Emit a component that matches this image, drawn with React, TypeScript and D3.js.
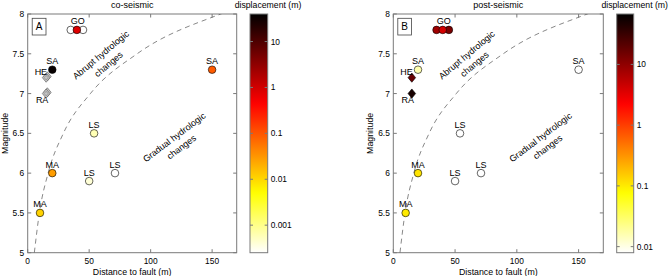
import React from 'react';
import * as d3 from 'd3';

// ---------- data ----------
const stations = ['GO', 'GO', 'GO', 'SA', 'HE', 'RA', 'SA', 'LS', 'LS', 'LS', 'MA', 'MA'];
const showLabel = [false, false, true, true, true, true, true, true, true, true, true, true];
const distance = [35, 45, 40, 20, 15, 15, 150, 54, 50, 71, 20, 10];
const magnitude = [7.8, 7.8, 7.8, 7.3, 7.2, 7.0, 7.3, 6.5, 5.9, 6.0, 6.0, 5.5];
const markerShape = ['circle', 'circle', 'circle', 'circle', 'diamond', 'diamond', 'circle', 'circle', 'circle', 'circle', 'circle', 'circle'];
// displacement (m); NaN = no data (gray)
const coDisplacement = [0, 0, 0.8, 35, NaN, NaN, 0.09, 0.0006, 0.0004, 0, 0.028, 0.011];
const postDisplacement = [8, 13, 4, 0.016, 17, 50, 0, 0, 0, 0, 0.11, 0.1];

// boundary between abrupt and gradual changes
const boundaryDistance = [5.4, 9.5, 16.6, 29, 51, 89, 157, 175];
const boundaryMagnitude = [5, 5.5, 6, 6.5, 7, 7.5, 8, 8.1];

const xTicks = [0, 50, 100, 150];
const yTicks = [5, 5.5, 6, 6.5, 7, 7.5, 8];
const cbTicksCo = [0.001, 0.01, 0.1, 1, 10];
const cbTicksPost = [0.01, 0.1, 1, 10];
const cbDomainCo = [Math.pow(10, -3.6), Math.pow(10, 1.6)];
const cbDomainPost = [Math.pow(10, -2.1), Math.pow(10, 1.83)];

// ---------- layout ----------
const W = 668;
const H = 276;
const TOP = 14;
const BOTTOM = 252.7;
const FONT = "'Liberation Sans', Arial, Helvetica, sans-serif";
const AXIS = '#7a7a7a';

const clamp01 = (v: number) => Math.max(0, Math.min(1, v));
// MATLAB "hot" colormap, reversed (t=0 white -> t=1 black)
function hotRev(t: number): string {
  const s = 1 - clamp01(t);
  const r = Math.min(1, s / 0.375);
  const g = clamp01((s - 0.375) / 0.375);
  const b = clamp01((s - 0.75) / 0.25);
  return d3.rgb(r * 255, g * 255, b * 255).formatHex();
}

const panels = [
  { key: 'A', title: 'co-seismic', left: 27.7, right: 236.7, cbX: 250, cbW: 17.7, domain: cbDomainCo, ticks: cbTicksCo, disp: coDisplacement },
  { key: 'B', title: 'post-seismic', left: 393.3, right: 603.3, cbX: 616.7, cbW: 17, domain: cbDomainPost, ticks: cbTicksPost, disp: postDisplacement },
];

function Panel({ p }: { p: typeof panels[number] }) {
  const x = d3.scaleLinear().domain([0, 170]).range([p.left, p.right]);
  const y = d3.scaleLinear().domain([5, 8]).range([BOTTOM, TOP]);
  const cb = d3.scaleLog().domain(p.domain).range([BOTTOM, TOP]);
  const tScale = d3.scaleLog().domain(p.domain).range([0, 1]).clamp(true);
  const colorOf = (v: number) => (isNaN(v) ? '#c4c4c4' : v <= 0 ? '#ffffff' : hotRev(tScale(v)));
  const tl = 3.5;
  const gradId = 'grad' + p.key;
  const clipId = 'clip' + p.key;
  const stops = d3.range(64).map((i) => i / 63);
  const line = d3
    .line<number>()
    .x((d, i) => x(boundaryDistance[i]))
    .y((d, i) => y(boundaryMagnitude[i]))
    .curve(d3.curveMonotoneX);
  const midX = (p.left + p.right) / 2;

  const annot = (dist: number, mag: number, angle: number, l1: string, l2: string) => (
    <g transform={`translate(${x(dist)},${y(mag)}) rotate(${angle})`} fontSize={9} fontFamily={FONT} textAnchor="middle">
      <text y={3}>{l1}</text>
      <text y={15}>{l2}</text>
    </g>
  );

  return (
    <g>
      <defs>
        <linearGradient id={gradId} x1="0" y1="1" x2="0" y2="0">
          {stops.map((t, i) => (
            <stop key={i} offset={t} stopColor={hotRev(t)} />
          ))}
        </linearGradient>
        <clipPath id={clipId}>
          <rect x={p.left} y={TOP} width={p.right - p.left} height={BOTTOM - TOP} />
        </clipPath>
      </defs>
      {/* title */}
      <text x={midX} y={8} textAnchor="middle" fontSize={9} fontFamily={FONT}>{p.title}</text>
      {/* axes box */}
      <rect x={p.left} y={TOP} width={p.right - p.left} height={BOTTOM - TOP} fill="white" stroke={AXIS} strokeWidth={1} />
      {xTicks.map((t) => (
        <g key={'x' + t}>
          <line x1={x(t)} x2={x(t)} y1={BOTTOM} y2={BOTTOM - tl} stroke={AXIS} />
          <line x1={x(t)} x2={x(t)} y1={TOP} y2={TOP + tl} stroke={AXIS} />
          <text x={x(t)} y={263.5} textAnchor="middle" fontSize={8.4} fontFamily={FONT}>{t}</text>
        </g>
      ))}
      {yTicks.map((t) => (
        <g key={'y' + t}>
          <line x1={p.left} x2={p.left + tl} y1={y(t)} y2={y(t)} stroke={AXIS} />
          <line x1={p.right} x2={p.right - tl} y1={y(t)} y2={y(t)} stroke={AXIS} />
          <text x={p.left - 3.5} y={y(t) + 3} textAnchor="end" fontSize={8.4} fontFamily={FONT}>{String(t)}</text>
        </g>
      ))}
      <text x={midX} y={274.5} textAnchor="middle" fontSize={8.8} fontFamily={FONT}>Distance to fault (m)</text>
      <text transform={`translate(${p.left - 20},${(TOP + BOTTOM) / 2}) rotate(-90)`} textAnchor="middle" fontSize={8.8} fontFamily={FONT}>Magnitude</text>
      {/* boundary */}
      <path d={line(boundaryDistance) || ''} fill="none" stroke="#555" strokeWidth={0.7} strokeDasharray="5,4" clipPath={`url(#${clipId})`} />
      {/* annotations */}
      {annot(59.5, 7.485, -40, 'Abrupt hydrologic', 'changes')}
      {annot(119.2, 6.448, -37, 'Gradual hydrologic', 'changes')}
      {/* panel label */}
      <rect x={p.left + 4.5} y={18.3} width={13.8} height={16.7} fill="white" stroke="#444" strokeWidth={0.8} />
      <text x={p.left + 11.4} y={30.3} textAnchor="middle" fontSize={10} fontFamily={FONT}>{p.key}</text>
      {/* markers */}
      {stations.map((s, i) => {
        const cx = x(distance[i]);
        const cy = y(magnitude[i]);
        const v = p.disp[i];
        const fill = colorOf(v);
        if (markerShape[i] === 'diamond') {
          const dw = 3.8, dh = 4.6;
          const pts = (ox: number, oy: number, k: number) =>
            `${cx + ox},${cy + oy - dh * k} ${cx + ox + dw * k},${cy + oy} ${cx + ox},${cy + oy + dh * k} ${cx + ox - dw * k},${cy + oy}`;
          return (
            <g key={i}>
              {isNaN(v) && <polygon points={pts(1.2, -1.2, 1)} fill={fill} stroke="#555" strokeWidth={0.6} />}
              <polygon points={pts(0, 0, 1)} fill={fill} stroke={isNaN(v) ? '#555' : '#000'} strokeWidth={0.6} />
              {isNaN(v) && <polygon points={pts(0, 0, 0.5)} fill="none" stroke="#777" strokeWidth={0.5} />}
            </g>
          );
        }
        return <circle key={i} cx={cx} cy={cy} r={3.8} fill={fill} stroke="#000" strokeWidth={0.6} />;
      })}
      {stations.map((s, i) => {
        if (!showLabel[i]) return null;
        const cx = x(distance[i]);
        const cy = y(magnitude[i]);
        let tx = cx, ty = cy - 5.5, anchor = 'middle';
        if (s === 'HE') { tx = cx + 1; ty = cy - 2.5; anchor = 'end'; }
        if (s === 'RA') { tx = cx - 4; ty = cy + 9.5; }
        if (s === 'GO') { tx = cx + 1; }
        return (
          <text key={'l' + i} x={tx} y={ty} textAnchor={anchor} fontSize={9} fontFamily={FONT}>{s}</text>
        );
      })}
      {/* colorbar */}
      <rect x={p.cbX} y={TOP} width={p.cbW} height={BOTTOM - TOP} fill={`url(#${gradId})`} stroke={AXIS} strokeWidth={1} />
      {p.ticks.map((t) => (
        <g key={'c' + t}>
          <line x1={p.cbX + p.cbW} x2={p.cbX + p.cbW - 3} y1={cb(t)} y2={cb(t)} stroke={AXIS} />
          <line x1={p.cbX} x2={p.cbX + 3} y1={cb(t)} y2={cb(t)} stroke={AXIS} />
          <text x={p.cbX + p.cbW + 3} y={cb(t) + 3} fontSize={8.4} fontFamily={FONT}>{String(t)}</text>
        </g>
      ))}
      <text x={p.cbX + 18} y={8} textAnchor="middle" fontSize={8.7} fontFamily={FONT}>displacement (m)</text>
    </g>
  );
}

export default function App() {
  return (
    <svg width={W} height={H} style={{ position: 'absolute', left: 0, top: 0, background: 'white' }}>
      <rect x={0} y={0} width={W} height={H} fill="white" />
      {panels.map((p) => (
        <Panel key={p.key} p={p} />
      ))}
    </svg>
  );
}
